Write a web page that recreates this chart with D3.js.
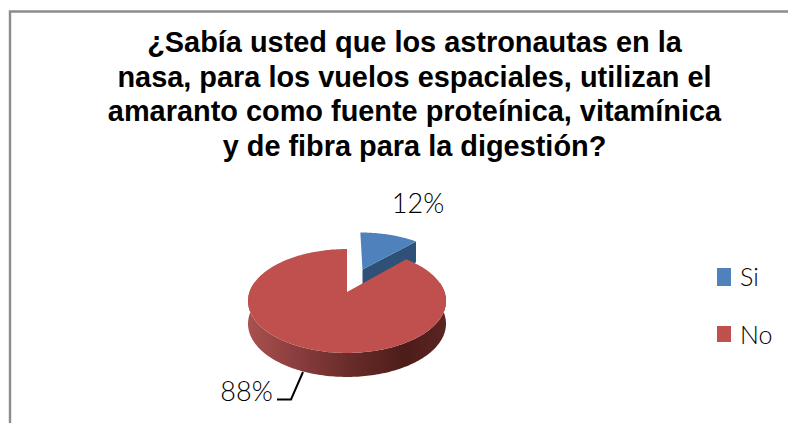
<!DOCTYPE html>
<html>
<head>
<meta charset="utf-8">
<script src="https://cdn.jsdelivr.net/npm/d3@7"></script>
<style>
  html, body { margin: 0; padding: 0; background: #fff; }
  svg { display: block; }
</style>
</head>
<body>
<svg id="chart" width="788" height="423"></svg>
<script>
const titleLines = [
  "¿Sabía usted que los astronautas en la",
  "nasa, para los vuelos espaciales, utilizan el",
  "amaranto como fuente proteínica, vitamínica",
  "y de fibra para la digestión?"
];
const categories = ["Si", "No"];
const shares = [12, 88];
const sliceColors = ["#4f81bd", "#c0504d"];

const svg = d3.select("#chart");

// Chart frame: only the top and left edges fall inside the page
svg.append("path")
  .attr("d", "M10,423V11.5H788")
  .attr("fill", "none")
  .attr("stroke", "#8c8c8c")
  .attr("stroke-width", 2.4);

// Title
svg.append("g")
  .attr("font-family", "'Liberation Sans', Arial, sans-serif")
  .attr("font-weight", "bold")
  .attr("font-size", 28.9)
  .attr("text-anchor", "middle")
  .attr("fill", "#000")
  .selectAll("text")
  .data(titleLines)
  .join("text")
  .attr("x", 414.5)
  .attr("y", (d, i) => 52 + i * 34.7)
  .text(d => d);

// Tilted disc: plan coordinates (u, v) are projected with a perspective divide
const apex = { x: 347, y: 292 };
const spreadX = 97.5, spreadY = 50.4, persp = 0.173;
const project = (u, v) => {
  const w = 1 + persp * v;
  return [apex.x + spreadX * u / w, apex.y - spreadY * v / w];
};
const wallDepth = v => 22.5 - 1.5 * v;

const arcs = d3.pie().sort(null).value(d => d)(shares);

// Points along a slice rim in plan coordinates
const rim = (a, offset) => {
  const n = Math.max(2, Math.ceil((a.endAngle - a.startAngle) / 0.02));
  return d3.range(n + 1).map(i => {
    const t = a.startAngle + (a.endAngle - a.startAngle) * i / n;
    return [offset[0] + Math.sin(t), offset[1] + Math.cos(t)];
  });
};
const toPath = d3.line();
const explode = [[0.172, 0.484], [0, 0]];

const defs = svg.append("defs");
const wallGrad = defs.append("linearGradient")
  .attr("id", "wallShade")
  .attr("gradientUnits", "userSpaceOnUse")
  .attr("x1", 247).attr("x2", 445).attr("y1", 0).attr("y2", 0);
[[0, "#a9524e"], [0.3, "#84393a"], [0.55, "#652a27"], [0.8, "#4d1d1a"], [1, "#5a2421"]]
  .forEach(([o, c]) => wallGrad.append("stop").attr("offset", o).attr("stop-color", c));

const pieG = svg.append("g");

// Blue slice: cut face first, then its top
const blue = arcs[0];
const blueRim = rim(blue, explode[0]);
const blueApex = explode[0];
const blueEnd = blueRim[blueRim.length - 1];
const drop = (p) => {
  const q = project(p[0], p[1]);
  return [q[0], q[1] + wallDepth(p[1])];
};
pieG.append("path")
  .attr("d", toPath([project(...blueApex), project(...blueEnd), drop(blueEnd), drop(blueApex)]) + "Z")
  .attr("fill", "#2f5178");
pieG.append("path")
  .attr("d", toPath([project(...blueApex), ...blueRim.map(p => project(...p))]) + "Z")
  .attr("fill", sliceColors[0]);

// Red slice: front wall, then its top
const red = arcs[1];
const redRim = rim(red, explode[1]);
const frontRim = redRim.filter(p => p[1] < 0.2);
pieG.append("path")
  .attr("d", toPath([...frontRim.map(p => project(...p)), ...frontRim.slice().reverse().map(drop)]) + "Z")
  .attr("fill", "url(#wallShade)");
pieG.append("path")
  .attr("d", toPath([project(0, 0), ...redRim.map(p => project(...p))]) + "Z")
  .attr("fill", sliceColors[1]);

// Percentage labels and leader line
const labelFont = "Lato, 'Open Sans', sans-serif";
const dataLabels = svg.append("g")
  .attr("font-family", labelFont)
  .attr("font-weight", 300)
  .attr("font-size", 27)
  .attr("fill", "#000");
dataLabels.append("text")
  .attr("x", 418).attr("y", 213).attr("text-anchor", "middle")
  .text(shares[0] + "%");
dataLabels.append("text")
  .attr("x", 246.5).attr("y", 401).attr("text-anchor", "middle")
  .text(shares[1] + "%");
svg.append("path")
  .attr("d", "M303,372L291,399.5H277")
  .attr("fill", "none")
  .attr("stroke", "#000")
  .attr("stroke-width", 2);

// Legend
const legend = svg.append("g")
  .selectAll("g")
  .data(categories)
  .join("g")
  .attr("transform", (d, i) => `translate(717,${268 + i * 58})`);
legend.append("rect")
  .attr("width", 14)
  .attr("height", (d, i) => i === 0 ? 18 : 16)
  .attr("fill", (d, i) => sliceColors[i]);
legend.append("text")
  .attr("x", 23)
  .attr("y", 18)
  .attr("font-family", labelFont)
  .attr("font-weight", 300)
  .attr("font-size", 25)
  .attr("fill", "#000")
  .text(d => d);
</script>
</body>
</html>
